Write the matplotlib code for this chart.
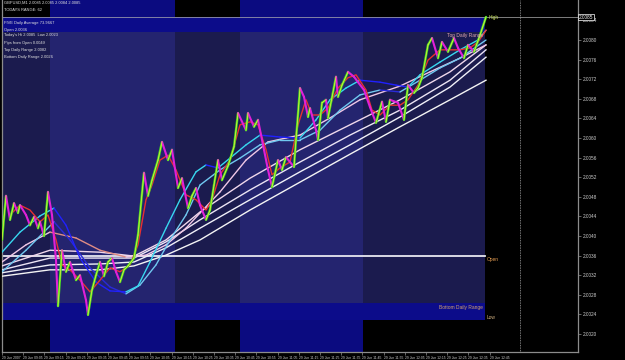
import matplotlib
matplotlib.use("Agg")
import matplotlib.pyplot as plt
from matplotlib.patches import Rectangle

plt.rcParams['font.family'] = ['Liberation Sans', 'DejaVu Sans']

# ---- data: 1 minute bars, prices in pips above 2.0000 ----
price_bar = [0, 2, 4, 6, 8, 9, 12, 14, 16, 18, 19, 21, 23, 25, 27, 28, 30, 32, 34, 37,
             39, 42, 43, 45, 47, 49, 51, 53, 55, 57, 59, 61, 63, 66, 68, 71, 73, 75, 78, 80,
             83, 85, 88, 90, 93, 95, 97, 99, 102, 104, 106, 108, 110, 113, 116, 118, 122, 123, 126, 128,
             131, 133, 135, 138, 140, 142, 146, 147, 149, 151, 153, 154, 157, 158, 160, 162, 163, 167, 168, 170,
             173, 176, 178, 181, 184, 187, 190, 192, 194, 198, 201, 203, 206, 208, 210, 213, 215, 218, 220, 223,
             226, 228, 231, 233, 236, 239, 242]
price_pip = [39.2, 48.2, 43.3, 46.7, 44.7, 46.3, 44.3, 42.2, 43.9, 41.6, 42.9, 40.0, 49.0, 44.3, 35.1, 25.7, 37.1, 32.7, 34.7, 31.0,
             32.0, 26.9, 23.9, 29.0, 32.0, 34.7, 31.8, 34.7, 35.5, 32.7, 30.6, 33.1, 33.9, 35.5, 40.2, 52.9, 48.2, 51.4, 55.5, 59.2,
             55.5, 57.6, 49.8, 51.8, 45.7, 48.2, 49.8, 46.3, 43.3, 45.3, 50.4, 55.5, 51.4, 54.3, 58.2, 65.1, 61.6, 65.1, 62.3, 63.7,
             57.6, 53.5, 50.0, 55.5, 53.5, 56.1, 54.1, 59.6, 70.2, 68.4, 64.3, 66.1, 61.6, 59.6, 67.2, 67.8, 64.1, 72.5, 68.4, 70.8,
             73.5, 72.5, 71.4, 69.8, 66.3, 63.1, 67.4, 63.3, 67.8, 67.2, 63.7, 70.8, 69.2, 70.2, 72.3, 79.0, 80.4, 76.3, 79.6, 77.6,
             80.4, 78.4, 76.3, 79.0, 77.6, 81.0, 84.7]

red_bar = [4, 9, 14, 19, 23, 27, 30, 34, 39, 44, 49, 54, 59, 64, 68, 72, 75, 79, 83, 87,
           92, 97, 102, 105, 109, 114, 119, 124, 128, 132, 135, 139, 144, 148, 152, 155, 159, 163, 168, 173,
           177, 182, 185, 189, 194, 199, 203, 208, 213, 219, 224, 229, 234, 238, 242]
red_pip = [44.3, 46.3, 45.3, 42.9, 44.3, 39.2, 34.1, 33.1, 31.0, 28.6, 31.0, 33.5, 32.7, 34.1, 38.2, 47.4, 50.4, 55.5, 56.5, 53.5,
           48.4, 47.4, 45.3, 47.4, 52.5, 55.5, 62.7, 63.3, 62.7, 57.6, 52.5, 53.9, 55.1, 62.7, 67.8, 64.7, 64.7, 66.1, 70.2, 72.3,
           72.9, 69.8, 65.7, 64.7, 66.7, 66.7, 67.8, 70.8, 75.9, 78.0, 78.0, 78.0, 78.4, 79.6, 82.0]

ma_a_bar = [0, 9, 19, 26, 32, 39, 47, 54, 62, 68, 74, 82, 89, 97, 102, 108, 114, 122, 129, 139,
            149, 157, 164, 172, 179, 189, 197, 203, 209, 219, 229, 238, 242]
ma_a_pip = [36.7, 40.8, 44.1, 45.7, 42.2, 35.5, 30.6, 28.8, 28.6, 29.8, 34.7, 41.6, 47.4, 53.1, 54.5, 53.9, 55.9, 58.6, 60.6, 60.2,
            60.0, 63.7, 67.8, 70.2, 71.8, 71.4, 70.8, 70.4, 72.9, 75.5, 78.0, 80.0, 82.0]

ma_b_bar = [0, 12, 26, 34, 44, 54, 62, 69, 77, 84, 92, 99, 109, 119, 129, 139, 149, 159, 169, 179,
            189, 199, 209, 219, 229, 242]
ma_b_pip = [32.7, 37.1, 42.9, 39.2, 33.5, 29.6, 28.2, 30.0, 34.1, 39.2, 44.3, 50.4, 53.5, 55.9, 58.6, 59.6, 59.6, 61.6, 65.7, 68.8,
            69.8, 69.4, 71.8, 74.3, 76.3, 80.0]

ma_c_bar = [0, 12, 24, 37, 49, 62, 72, 82, 92, 99, 109, 122, 133, 142, 149, 164, 179, 199, 214, 229, 242]
ma_c_pip = [34.7, 38.2, 40.8, 39.6, 37.1, 35.7, 36.1, 38.2, 41.6, 44.7, 49.0, 55.5, 59.2, 60.0, 60.6, 64.1, 67.8, 70.6, 73.5, 76.3, 79.0]

slow_bar = [0, 24, 49, 66, 82, 99, 124, 149, 174, 199, 224, 242]
slow1_pip = [33.9, 37.1, 36.7, 35.9, 39.2, 44.9, 51.8, 57.6, 62.7, 67.8, 73.5, 79.0]
slow2_pip = [33.1, 35.5, 35.5, 35.5, 38.8, 43.3, 49.4, 55.1, 60.6, 65.7, 71.8, 78.0]
slow3_pip = [32.5, 34.1, 34.3, 34.7, 37.6, 41.6, 47.4, 53.1, 58.6, 64.3, 70.4, 76.5]
slow4_pip = [31.8, 33.1, 33.1, 33.9, 36.1, 39.2, 45.3, 51.0, 56.7, 62.3, 67.8, 71.8]

# daily levels (pips above 2.0000)
day_high = 84.7
top_range = 81.6
open_level = 35.9
bottom_range = 26.3
day_low = 22.9

y_ticks = [20, 24, 28, 32, 36, 40, 44, 48, 52, 56, 60, 64, 68, 72, 76, 80, 84]
y_labels = ["2.0020", "2.0024", "2.0028", "2.0032", "2.0036", "2.0040", "2.0044", "2.0048", "2.0052",
            "2.0056", "2.0060", "2.0064", "2.0068", "2.0072", "2.0076", "2.0080", "2.0084"]
time_labels = ["29 Jun 2007", "29 Jun 09:05", "29 Jun 09:15", "29 Jun 09:25", "29 Jun 09:35", "29 Jun 09:45",
               "29 Jun 09:55", "29 Jun 10:05", "29 Jun 10:15", "29 Jun 10:25", "29 Jun 10:35", "29 Jun 10:45",
               "29 Jun 10:55", "29 Jun 11:05", "29 Jun 11:15", "29 Jun 11:25", "29 Jun 11:35", "29 Jun 11:45",
               "29 Jun 11:55", "29 Jun 12:05", "29 Jun 12:15", "29 Jun 12:25", "29 Jun 12:35", "29 Jun 12:45"]

info_lines = ["GBPUSD,M1 2.0085 2.0085 2.0084 2.0085",
              "TODAYS RANGE: 62",
              "FIVE Daily Average 73.9667",
              "Open 2.0036",
              "Today's Hi 2.0085  Low 2.0023",
              "Pips from Open 0.0049",
              "Top Daily Range 2.0082",
              "Bottom Daily Range 2.0026"]

sessions = [(24, 86.5), (119, 180.5)]
last_bar = 241.5
shift_line = 259
#-----------------------------

fig = plt.figure(figsize=(6.25, 3.6), dpi=100, facecolor='black')
ax = fig.add_axes([2 / 625, 8 / 360, 576 / 625, 352 / 360])
ax.set_facecolor('black')
ax.set_xlim(0, 288)
ax.set_ylim(16.33, 88.17)

# session boxes, full height
for s0, s1 in sessions:
    ax.add_patch(Rectangle((s0, 16.33), s1 - s0, 72, color='#0b0b80', lw=0, zorder=0))
# daily range bands
ax.add_patch(Rectangle((0, top_range), last_bar, day_high - top_range, color='#0c0c8a', lw=0, zorder=0.5))
ax.add_patch(Rectangle((0, day_low), last_bar, bottom_range - day_low, color='#0c0c8a', lw=0, zorder=0.5))
# middle zone
ax.add_patch(Rectangle((0, bottom_range), last_bar, top_range - bottom_range, color='#1b1b4e', lw=0, zorder=0.6))
for s0, s1 in sessions:
    ax.add_patch(Rectangle((s0, bottom_range), s1 - s0, top_range - bottom_range, color='#24246f', lw=0, zorder=0.7))

ax.axhline(day_high, color='#b0b0b0', lw=0.5, zorder=1)
ax.plot([0, last_bar], [open_level, open_level], color='#e8e8f0', lw=1.3, zorder=2)
ax.axvline(shift_line, color='#a0a0a0', lw=0.6, ls=(0, (1, 1)), zorder=1)


def slope_line(xs, ys, up, down, lw, z):
    for i in range(len(xs) - 1):
        c = up if ys[i + 1] >= ys[i] else down
        ax.plot(xs[i:i + 2], ys[i:i + 2], color=c, lw=lw, zorder=z, solid_capstyle='round')


ax.plot(slow_bar, slow4_pip, color='#f4f4f4', lw=1.0, zorder=3)
ax.plot(slow_bar, slow3_pip, color='#f0f0f8', lw=1.0, zorder=3)
ax.plot(slow_bar, slow2_pip, color='#ece4f4', lw=1.0, zorder=3)
ax.plot(slow_bar, slow1_pip, color='#f0d8ec', lw=1.0, zorder=3)
slope_line(ma_c_bar, ma_c_pip, '#f0c8e6', '#e08c84', 1.0, 3.5)
slope_line(ma_b_bar, ma_b_pip, '#70c8f0', '#2a2ad8', 1.0, 4)
slope_line(ma_a_bar, ma_a_pip, '#38d8f0', '#2020ff', 1.0, 4.2)
ax.plot(red_bar, red_pip, color='#e83030', lw=1.0, zorder=5)

# price line, green up / magenta down
for i in range(len(price_bar) - 1):
    xs = price_bar[i:i + 2]
    ys = price_pip[i:i + 2]
    if ys[1] >= ys[0]:
        ax.plot(xs, ys, color='#44dd22', lw=1.7, zorder=6, solid_capstyle='round')
        ax.plot(xs, ys, color='#eeee44', lw=0.5, zorder=6.5)
    else:
        ax.plot(xs, ys, color='#e020d8', lw=1.5, zorder=6, solid_capstyle='round')

# level labels
ax.text(last_bar + 2, day_high, 'High', color='#c8e060', fontsize=3.5, va='center', zorder=8)
ax.text(last_bar + 1, open_level - 0.2, 'Open', color='#e09a50', fontsize=3.5, va='top', zorder=8)
ax.text(last_bar + 1, day_low + 0.4, 'Low', color='#d0b080', fontsize=3.5, va='center', zorder=8)
ax.text(last_bar - 1, top_range - 0.2, 'Top Daily Range', color='#e0a8b0', fontsize=3.5, va='top', ha='right', zorder=8)
ax.text(last_bar - 1, bottom_range - 0.3, 'Bottom Daily Range', color='#d0a070', fontsize=3.5, va='top', ha='right', zorder=8)

# info block top left
info_y = [3, 10, 23, 30, 35, 43, 50, 57]
for txt, yy in zip(info_lines, info_y):
    fig.text(4 / 625, 1 - yy / 360, txt, color='#e0e0e0', fontsize=2.9, va='center')

# axes styling
ax.spines['top'].set_visible(False)
for side in ['left', 'right', 'bottom']:
    ax.spines[side].set_color('#8c8c8c')
    ax.spines[side].set_linewidth(0.9)
ax.yaxis.tick_right()
ax.set_yticks(y_ticks)
ax.set_yticklabels(y_labels)
ax.tick_params(axis='y', colors='#8c8c8c', labelcolor='#d0d0d0', labelsize=3.4, length=2, width=0.5, pad=1.5)
x_pos = [i * 10.6 for i in range(len(time_labels))]
ax.set_xticks(x_pos)
ax.set_xticklabels(time_labels, ha='left')
ax.tick_params(axis='x', colors='#8c8c8c', labelcolor='#d0d0d0', labelsize=2.4, length=2, width=0.5, pad=0.8)

ax.text(1.002, day_high, '2.0085', transform=ax.get_yaxis_transform(), color='white', fontsize=3.4,
        va='center', ha='left', zorder=9,
        bbox=dict(boxstyle='square,pad=0.15', facecolor='black', edgecolor='white', lw=0.5))

fig.savefig('out.png', dpi=100, facecolor='black')
